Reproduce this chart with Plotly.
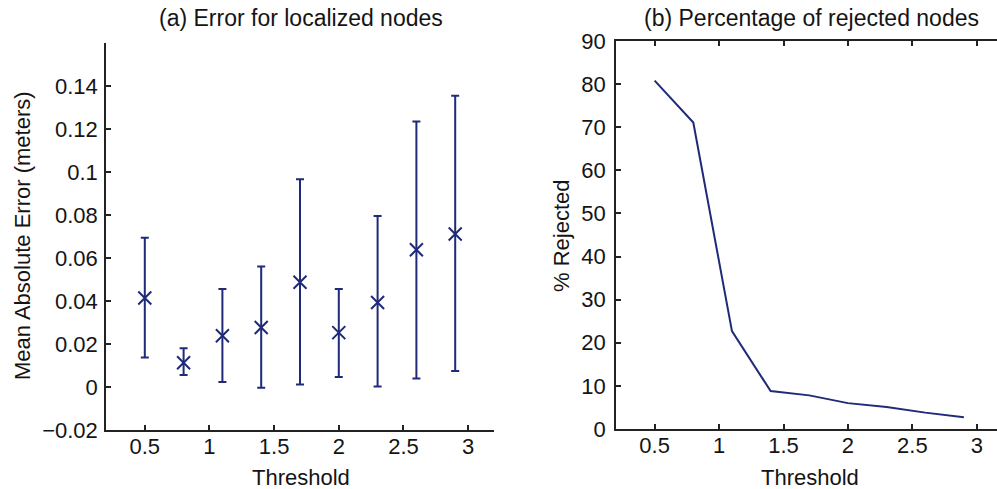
import plotly.graph_objects as go

thresholds = [0.5, 0.8, 1.1, 1.4, 1.7, 2.0, 2.3, 2.6, 2.9]
mean_err = [0.0414, 0.0113, 0.0238, 0.0277, 0.0487, 0.0253, 0.0393, 0.0638, 0.0712]
err_upper = [0.0694, 0.0180, 0.0456, 0.0560, 0.0966, 0.0456, 0.0795, 0.1235, 0.1355]
err_lower = [0.0137, 0.0056, 0.0023, -0.0003, 0.0012, 0.0047, 0.0002, 0.0039, 0.0075]
pct_rejected = [80.8, 71.1, 22.7, 8.8, 7.8, 6.0, 5.1, 3.8, 2.7]

x_ticks = [0.5, 1, 1.5, 2, 2.5, 3]
y1_ticks = [-0.02, 0, 0.02, 0.04, 0.06, 0.08, 0.1, 0.12, 0.14]
y1_ticktext = ["\u22120.02", "0", "0.02", "0.04", "0.06", "0.08", "0.1", "0.12", "0.14"]
y2_ticks = [0, 10, 20, 30, 40, 50, 60, 70, 80, 90]

navy = "#1f2a78"
txt = "#141414"
W, H = 997, 489
font = "Liberation Sans, Arial, Helvetica, sans-serif"

fig = go.Figure()
plus = [u - m for u, m in zip(err_upper, mean_err)]
minus = [m - l for m, l in zip(mean_err, err_lower)]
fig.add_trace(go.Scatter(
    x=thresholds, y=mean_err, mode="markers", xaxis="x", yaxis="y",
    marker=dict(symbol="x-thin", size=13, line=dict(width=2, color=navy), color=navy),
    error_y=dict(type="data", symmetric=False, array=plus, arrayminus=minus,
                 color=navy, thickness=2, width=4),
    showlegend=False))
fig.add_trace(go.Scatter(
    x=thresholds, y=pct_rejected, mode="lines", xaxis="x2", yaxis="y2",
    line=dict(color=navy, width=2), showlegend=False))

def px_x(p):
    return p / W

def px_y(p):
    return 1 - p / H

axis_common = dict(showgrid=False, zeroline=False, ticks="inside", ticklen=5,
                   tickwidth=1.5, tickcolor="#222", linecolor="#222", linewidth=1.5,
                   showline=True, automargin=False,
                   tickfont=dict(family=font, size=22, color=txt))

fig.update_layout(
    template="none",
    width=W, height=H, margin=dict(l=0, r=0, t=0, b=0),
    plot_bgcolor="white", paper_bgcolor="white",
    font=dict(family=font, color=txt),
    xaxis=dict(domain=[px_x(106), px_x(494)], range=[0.2, 3.2], tickvals=x_ticks,
               anchor="y", ticklabelstandoff=-4, **axis_common),
    yaxis=dict(domain=[px_y(430), px_y(43)], range=[-0.02, 0.16], tickvals=y1_ticks,
               ticktext=y1_ticktext, anchor="x", ticklabelstandoff=2, **axis_common),
    xaxis2=dict(domain=[px_x(616), 1.0], range=[0.2, 3.157], tickvals=x_ticks,
                anchor="y2", mirror="ticks", ticklabelstandoff=-4, **axis_common),
    yaxis2=dict(domain=[px_y(429), px_y(41)], range=[0, 90], tickvals=y2_ticks,
                anchor="x2", ticklabelstandoff=4, **axis_common),
)

ann = [
    dict(text="(a) Error for localized nodes", x=px_x(301), y=px_y(18), size=23),
    dict(text="(b) Percentage of rejected nodes", x=px_x(811), y=px_y(18), size=23),
    dict(text="Threshold", x=px_x(301), y=px_y(477), size=22),
    dict(text="Threshold", x=px_x(810), y=px_y(477), size=22),
]
for a in ann:
    fig.add_annotation(text=a["text"], x=a["x"], y=a["y"], xref="paper", yref="paper",
                       showarrow=False, xanchor="center", yanchor="middle",
                       font=dict(family=font, size=a["size"], color=txt))
fig.add_annotation(text="Mean Absolute Error (meters)", x=px_x(22), y=px_y(236),
                   xref="paper", yref="paper", showarrow=False, textangle=-90,
                   xanchor="center", yanchor="middle",
                   font=dict(family=font, size=22, color=txt))
fig.add_annotation(text="% Rejected", x=px_x(561), y=px_y(236),
                   xref="paper", yref="paper", showarrow=False, textangle=-90,
                   xanchor="center", yanchor="middle",
                   font=dict(family=font, size=22, color=txt))

fig.write_html("out.html")
